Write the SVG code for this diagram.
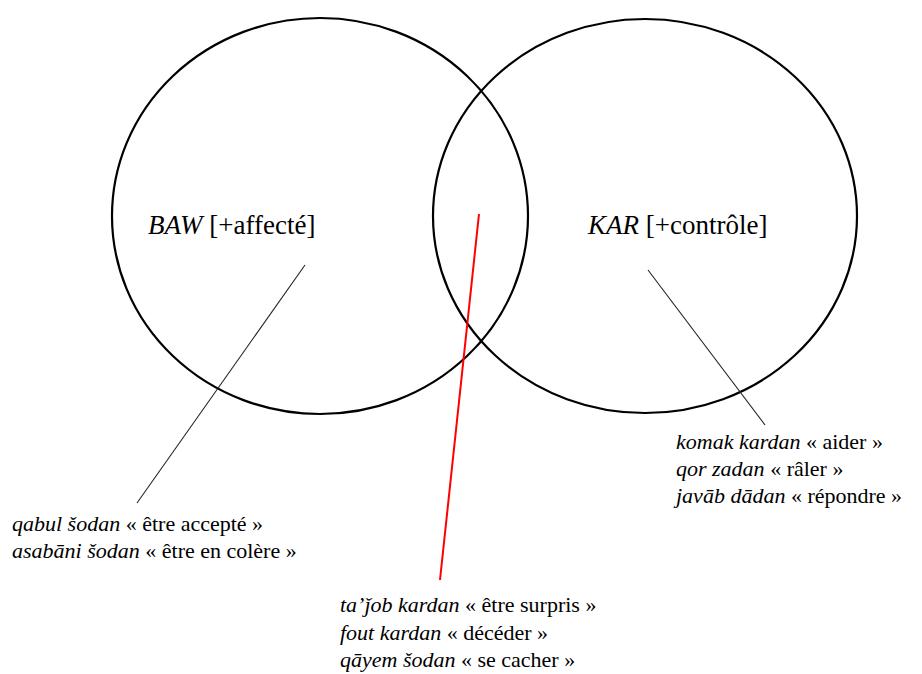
<svg xmlns="http://www.w3.org/2000/svg" width="922" height="674" viewBox="0 0 922 674">
<rect width="922" height="674" fill="#fff"/>
<g id="baw">
<ellipse cx="320" cy="216" rx="208" ry="198" fill="none" stroke="#000" stroke-width="2.2"/>
<text x="148" y="234" font-family="Times New Roman" font-size="27"><tspan font-style="italic">BAW</tspan> [+affecté]</text>
</g>
<g id="kar">
<ellipse cx="645" cy="216" rx="212" ry="197" fill="none" stroke="#000" stroke-width="2.2"/>
<text x="588" y="234" font-family="Times New Roman" font-size="27"><tspan font-style="italic">KAR</tspan> [+contrôle]</text>
</g>
<g id="connectors" fill="none">
<line x1="305" y1="265" x2="137" y2="503" stroke="#222" stroke-width="1.1"/>
<line x1="479" y1="214" x2="440" y2="580" stroke="#f00" stroke-width="2"/>
<line x1="648" y1="270" x2="765" y2="425" stroke="#222" stroke-width="1.1"/>
</g>
<g id="baw-examples">
<text x="12" y="531" font-family="Times New Roman" font-size="22"><tspan font-style="italic">qabul šodan</tspan> « être accepté »</text>
<text x="12" y="558" font-family="Times New Roman" font-size="22"><tspan font-style="italic">asabāni šodan</tspan> « être en colère »</text>
</g>
<g id="shared-examples">
<text x="340" y="612" font-family="Times New Roman" font-size="22"><tspan font-style="italic">ta’ǰob kardan</tspan> « être surpris »</text>
<text x="340" y="640" font-family="Times New Roman" font-size="22"><tspan font-style="italic">fout kardan</tspan> « décéder »</text>
<text x="340" y="667" font-family="Times New Roman" font-size="22"><tspan font-style="italic">qāyem šodan</tspan> « se cacher »</text>
</g>
<g id="kar-examples">
<text x="676" y="449" font-family="Times New Roman" font-size="22"><tspan font-style="italic">komak kardan</tspan> « aider »</text>
<text x="676" y="476" font-family="Times New Roman" font-size="22"><tspan font-style="italic">qor zadan</tspan> « râler »</text>
<text x="676" y="503" font-family="Times New Roman" font-size="22"><tspan font-style="italic">javāb dādan</tspan> « répondre »</text>
</g>
</svg>
